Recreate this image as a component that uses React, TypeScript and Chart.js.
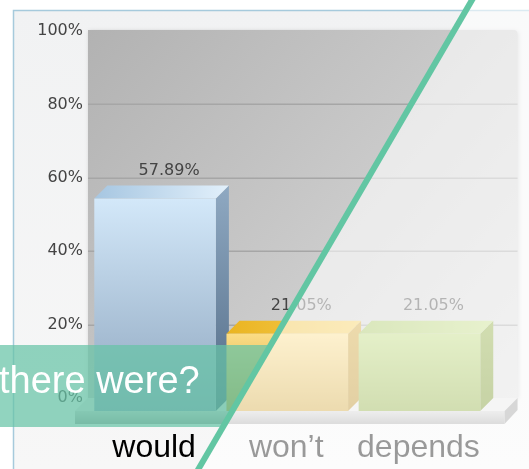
import React, { useEffect, useRef } from "react";
import { Chart, registerables } from "chart.js";

Chart.register(...registerables);

// ---- data ----
const categories = ["would", "won\u2019t", "depends"];
const values = [57.89, 21.05, 21.05];
const valueLabels = ["57.89%", "21.05%", "21.05%"];
const yTicks = [0, 20, 40, 60, 80, 100];
const overlayText = "there were?";

// ---- styles ----
const W = 529;
const H = 469;
const DEPTH = 13;
const barStyles = [
  { front: ["#d3e8f9", "#8ea6bf"], side: ["#8fa9c2", "#526b86"], cap: ["#a6c6e1", "#e2f0fb"] },
  { front: ["#fbdc86", "#d0a538"], side: ["#d2a431", "#b8891a"], cap: ["#eab421", "#f6cd55"] },
  { front: ["#bcd977", "#8eac3e"], side: ["#8eab3c", "#71901f"], cap: ["#a3c359", "#c4dd84"] },
];
const TEAL_LINE = "#62c6a3";
const lineX = (y: number) => 472 - 0.5832 * y;

const scenePlugin = {
  id: "scene",
  beforeDraw(chart: any) {
    const { ctx, chartArea: ca, scales } = chart;
    const ys = scales.y;
    ctx.save();
    ctx.fillStyle = "#ffffff";
    ctx.fillRect(0, 0, W, H);
    // panel
    const pg = ctx.createLinearGradient(0, 10, 0, H);
    pg.addColorStop(0, "#f1f2f3");
    pg.addColorStop(1, "#f7f7f7");
    ctx.fillStyle = pg;
    ctx.fillRect(13.5, 10.5, W, H);
    ctx.strokeStyle = "#a6cadc";
    ctx.lineWidth = 1.5;
    ctx.beginPath();
    ctx.moveTo(13.5, H);
    ctx.lineTo(13.5, 10.5);
    ctx.lineTo(W, 10.5);
    ctx.stroke();

    // back wall
    const wl = ca.left - 14;
    const wr = ca.right + 19;
    const wt = ca.top - 1;
    const wb = ca.bottom;
    ctx.save();
    ctx.shadowColor = "rgba(0,0,0,0.18)";
    ctx.shadowBlur = 4;
    ctx.shadowOffsetX = 1;
    ctx.shadowOffsetY = 1;
    const wg = ctx.createLinearGradient(wl, wt, wr, wb);
    wg.addColorStop(0, "#b2b2b2");
    wg.addColorStop(1, "#dedede");
    ctx.fillStyle = wg;
    ctx.beginPath();
    ctx.moveTo(wl, wb);
    ctx.lineTo(wl, wt);
    ctx.lineTo(wr - 4, wt);
    ctx.quadraticCurveTo(wr, wt, wr, wt + 4);
    ctx.lineTo(wr, wb);
    ctx.closePath();
    ctx.fill();
    ctx.restore();

    // grid lines
    ctx.strokeStyle = "#a6a6a6";
    ctx.lineWidth = 1.5;
    yTicks.forEach((v) => {
      if (v === 0 || v === 100) return;
      const py = Math.round(ys.getPixelForValue(v)) + 0.25;
      ctx.beginPath();
      ctx.moveTo(wl, py);
      ctx.lineTo(wr, py);
      ctx.stroke();
    });

    // floor slab
    const fd = DEPTH;
    const th = 13;
    ctx.fillStyle = "#e6e6e6";
    ctx.beginPath();
    ctx.moveTo(wl, wb);
    ctx.lineTo(wr, wb);
    ctx.lineTo(wr - fd, wb + fd);
    ctx.lineTo(wl - fd, wb + fd);
    ctx.closePath();
    ctx.fill();
    const ffg = ctx.createLinearGradient(0, wb + fd, 0, wb + fd + th);
    ffg.addColorStop(0, "#d4d4d4");
    ffg.addColorStop(1, "#a8a8a8");
    ctx.fillStyle = ffg;
    ctx.fillRect(wl - fd, wb + fd, wr - wl, th);
    ctx.fillStyle = "#9c9c9c";
    ctx.beginPath();
    ctx.moveTo(wr - fd, wb + fd);
    ctx.lineTo(wr, wb);
    ctx.lineTo(wr, wb + th - 1);
    ctx.lineTo(wr - fd, wb + fd + th);
    ctx.closePath();
    ctx.fill();
    ctx.restore();
  },
  afterDatasetsDraw(chart: any) {
    const { ctx } = chart;
    const meta = chart.getDatasetMeta(0);
    ctx.save();
    meta.data.forEach((bar: any, i: number) => {
      const st = barStyles[i];
      const w = bar.width;
      const bx0 = bar.x - w / 2;
      const bx1 = bar.x + w / 2;
      const by = bar.y;
      const base = bar.base;
      const fx0 = bx0 - DEPTH;
      const fx1 = bx1 - DEPTH;
      const fy = by + DEPTH;
      const fb = base + DEPTH;
      // side
      const sg = ctx.createLinearGradient(0, by, 0, fb);
      sg.addColorStop(0, st.side[0]);
      sg.addColorStop(1, st.side[1]);
      ctx.fillStyle = sg;
      ctx.beginPath();
      ctx.moveTo(fx1, fy);
      ctx.lineTo(bx1, by);
      ctx.lineTo(bx1, base);
      ctx.lineTo(fx1, fb);
      ctx.closePath();
      ctx.fill();
      // cap
      const cg = ctx.createLinearGradient(fx0, 0, bx1, 0);
      cg.addColorStop(0, st.cap[0]);
      cg.addColorStop(1, st.cap[1]);
      ctx.fillStyle = cg;
      ctx.beginPath();
      ctx.moveTo(fx0, fy);
      ctx.lineTo(bx0, by);
      ctx.lineTo(bx1, by);
      ctx.lineTo(fx1, fy);
      ctx.closePath();
      ctx.fill();
      // front
      const fg = ctx.createLinearGradient(0, fy, 0, fb);
      fg.addColorStop(0, st.front[0]);
      fg.addColorStop(1, st.front[1]);
      ctx.fillStyle = fg;
      ctx.fillRect(fx0, fy, w, fb - fy);
      // value label
      ctx.fillStyle = "#444444";
      ctx.font = "16px 'DejaVu Sans'";
      ctx.textAlign = "center";
      ctx.textBaseline = "middle";
      ctx.fillText(valueLabels[i], bar.x + 1, by - 15);
    });
    ctx.restore();
  },
  afterDraw(chart: any) {
    const { ctx } = chart;
    ctx.save();
    // washed-out right side of the diagonal
    ctx.fillStyle = "rgba(255,255,255,0.6)";
    ctx.beginPath();
    ctx.moveTo(lineX(0), 0);
    ctx.lineTo(W, 0);
    ctx.lineTo(W, H);
    ctx.lineTo(lineX(H), H);
    ctx.closePath();
    ctx.fill();

    // teal banner on the left of the diagonal
    ctx.save();
    ctx.beginPath();
    ctx.moveTo(0, 0);
    ctx.lineTo(lineX(0), 0);
    ctx.lineTo(lineX(H), H);
    ctx.lineTo(0, H);
    ctx.closePath();
    ctx.clip();
    ctx.fillStyle = "rgba(102,196,166,0.72)";
    ctx.fillRect(0, 345, W, 82);
    ctx.restore();

    ctx.fillStyle = "#ffffff";
    ctx.font = "38px 'Liberation Sans'";
    ctx.textAlign = "left";
    ctx.textBaseline = "alphabetic";
    ctx.fillText(overlayText, -1, 393);

    // diagonal line
    ctx.strokeStyle = TEAL_LINE;
    ctx.lineWidth = 6;
    ctx.beginPath();
    ctx.moveTo(lineX(-4), -4);
    ctx.lineTo(lineX(H + 4), H + 4);
    ctx.stroke();
    ctx.restore();
  },
};

export default function App() {
  const ref = useRef<HTMLCanvasElement | null>(null);
  useEffect(() => {
    if (!ref.current) return;
    const chart = new Chart(ref.current, {
      type: "bar",
      data: {
        labels: categories,
        datasets: [
          {
            data: values,
            backgroundColor: "rgba(0,0,0,0)",
            borderWidth: 0,
            barPercentage: 0.92,
            categoryPercentage: 1,
          },
        ],
      },
      options: {
        animation: false,
        responsive: false,
        devicePixelRatio: 1,
        layout: { padding: { top: 31, right: 25, left: 0, bottom: 0 } },
        plugins: { legend: { display: false }, tooltip: { enabled: false } },
        scales: {
          x: {
            afterFit: (s: any) => {
              s.height = 71;
            },
            grid: { display: false, drawTicks: false },
            border: { display: false },
            ticks: {
              font: { family: "Liberation Sans", size: 32 },
              color: "#000000",
              padding: 31,
              labelOffset: -14,
              maxRotation: 0,
              autoSkip: false,
            },
          },
          y: {
            min: 0,
            max: 100,
            afterFit: (s: any) => {
              s.width = 102;
            },
            afterBuildTicks: (s: any) => {
              s.ticks = yTicks.map((v) => ({ value: v }));
            },
            grid: { display: false, drawTicks: false },
            border: { display: false },
            ticks: {
              callback: (v: any) => v + "%",
              font: { family: "DejaVu Sans", size: 16 },
              color: "#444444",
              padding: 19,
            },
          },
        },
      },
      plugins: [scenePlugin],
    });
    return () => chart.destroy();
  }, []);
  return (
    <div style={{ position: "absolute", left: 0, top: 0, width: W, height: H }}>
      <canvas ref={ref} width={W} height={H} />
    </div>
  );
}
